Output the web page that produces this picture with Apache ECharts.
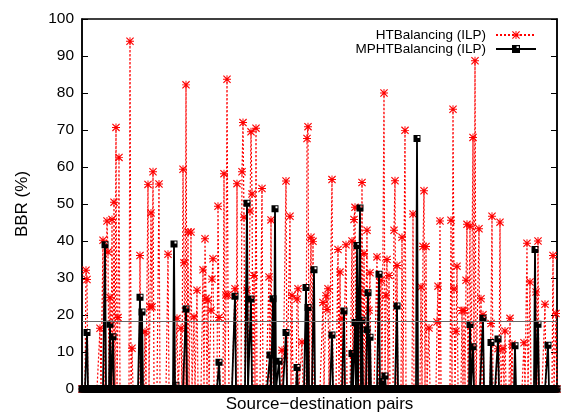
<!DOCTYPE html>
<html>
<head>
<meta charset="utf-8">
<script src="https://cdn.jsdelivr.net/npm/echarts@6/dist/echarts.min.js"></script>
<style>
  html, body { margin: 0; padding: 0; background: #fff; }
  #chart { width: 564px; height: 413px; }
</style>
</head>
<body>
<div id="chart"></div>
<script>
// Number of source-destination pairs on the x axis
const pairCount = 476;

// HTBalancing (ILP): pairs with non-zero BBR and their values (%)
const htPairs = [4, 5, 18, 21, 25, 26, 28, 30, 32, 34, 36, 37, 48, 50, 58, 63, 66, 68, 69, 70, 71, 77, 86, 95, 99, 101, 102, 104, 106, 109, 112, 115,
  121, 123, 124, 126, 129, 130, 131, 136, 137, 142, 144, 145, 146, 153, 155, 160, 161, 162, 165, 168, 169, 170, 172, 174, 180, 187, 189,
  200, 204, 208, 210, 215, 216, 220, 225, 226, 229, 231, 241, 244, 245, 246, 250, 256, 258, 260, 264, 270, 272, 273, 278, 280, 282, 285,
  287, 288, 295, 299, 302, 304, 305, 307, 312, 313, 315, 320, 323, 331, 339, 341, 342, 344, 347, 355, 356, 358, 369, 371, 372, 374, 375,
  380, 382, 384, 385, 388, 391, 393, 397, 399, 401, 409, 410, 416, 418, 421, 423, 428, 430, 442, 445, 448, 454, 456, 463, 471, 474];
const htBBR = [32.1, 29.6, 16.4, 40.2, 45.4, 37.0, 24.7, 45.8, 50.5, 70.7, 19.3, 62.6, 94.0, 11.0, 36.1, 15.5, 55.3, 22.2, 47.6, 22.2, 58.7, 55.4, 36.4, 19.1, 16.4, 59.4, 34.1, 82.2, 42.4, 42.4, 19.5, 26.7,
  32.2, 40.6, 24.5, 24.0, 21.3, 29.7, 35.2, 49.4, 19.3, 58.2, 25.4, 83.7, 25.4, 27.1, 55.5, 58.7, 72.0, 46.4, 26.7, 48.1, 69.5, 52.7, 30.7, 70.5, 54.2, 30.3, 45.7,
  10.5, 56.2, 46.7, 25.3, 24.3, 27.1, 12.7, 67.7, 70.9, 41.0, 39.9, 23.4, 25.2, 21.5, 27.1, 56.6, 37.7, 31.6, 19.1, 39.0, 40.0, 45.8, 49.1, 26.2, 55.8, 36.6, 42.9,
  21.3, 31.4, 35.7, 29.4, 80.0, 25.3, 35.0, 30.7, 42.9, 56.3, 33.4, 41.0, 69.9, 47.3, 27.6, 38.5, 53.6, 38.5, 16.5, 18.1, 27.8, 45.4, 45.6, 75.6, 27.0, 15.6, 33.2,
  21.2, 21.2, 29.4, 44.5, 44.0, 68.0, 88.7, 43.3, 24.4, 20.1, 17.7, 46.7, 10.9, 45.1, 10.9, 15.7, 19.1, 12.1, 12.5, 39.4, 28.9, 26.2, 40.0, 22.9, 36.1, 20.4];

// MPHTBalancing (ILP): pairs with non-zero BBR and their values (%)
const mpPairs = [5, 23, 28, 31, 58, 60, 92, 94, 104, 137, 153, 165, 169, 188, 191, 193, 197, 204, 215, 224, 226, 232, 250, 262, 270, 273, 275,
  278, 280, 285, 286, 288, 297, 300, 303, 315, 335, 388, 391, 401, 409, 416, 433, 453, 456, 466];
const mpBBR = [15.3, 39.0, 17.5, 14.1, 24.8, 20.8, 39.2, 1.0, 21.6, 7.2, 25.1, 50.2, 24.3, 9.2, 24.4, 48.7, 7.5, 15.3, 5.8, 27.4, 22.0, 32.2, 14.6, 21.1, 9.6, 18.0, 38.8,
  48.9, 18.6, 16.0, 26.0, 14.0, 31.0, 2.0, 3.5, 22.4, 67.7, 17.4, 11.4, 19.1, 12.6, 13.5, 11.7, 37.7, 17.5, 11.8];

// Reference level drawn across the plot (%)
const referenceBBR = 18.3;

// Y axis ticks
const yMin = 0, yMax = 100, yStep = 10;

const seriesNames = ['HTBalancing (ILP)', 'MPHTBalancing (ILP)'];
const xTitle = 'Source\u2212destination pairs';
const yTitle = 'BBR (%)';

// Expand sparse pair lists into one value per pair (zero elsewhere)
function fullSeries(pairs, values) {
  const out = [];
  for (let i = 0; i < pairCount; i++) out.push([i, 0]);
  pairs.forEach((p, k) => { out[p] = [p, values[k]]; });
  return out;
}

// Asterisk (+ and x combined) and a filled square with a small notch
const starSymbol = 'path://M4.4,0H5.6V10H4.4Z M0,4.4H10V5.6H0Z M1,0L10,9L9,10L0,1Z M9,0L10,1L1,10L0,9Z';
const squareSymbol = 'path://M0,0H7V7H0Z M4,1V3H6V1Z';

const font = 'Liberation Sans, Arial, Helvetica, sans-serif';

const chart = echarts.init(document.getElementById('chart'), null, { renderer: 'canvas' });
chart.setOption({
  animation: false,
  backgroundColor: '#fff',
  textStyle: { fontFamily: font, color: '#000' },
  grid: {
    left: 82, right: 7, top: 19, bottom: 24,
    outerBoundsMode: 'none',
    containLabel: false,
    show: true, borderColor: '#000', borderWidth: 1.5, backgroundColor: 'transparent'
  },
  legend: {
    data: seriesNames,
    orient: 'vertical',
    right: 22,
    top: 23,
    align: 'right',
    itemWidth: 40,
    itemHeight: 10,
    itemGap: 0,
    textStyle: { fontFamily: font, fontSize: 13.5, lineHeight: 14, color: '#000', padding: [0, 5, 0, 0] }
  },
  xAxis: {
    type: 'value',
    min: 0,
    max: pairCount - 1,
    name: xTitle,
    nameLocation: 'middle',
    nameGap: 7,
    nameTextStyle: { fontFamily: font, fontSize: 17, color: '#000' },
    axisLine: { show: true, lineStyle: { color: '#000', width: 1.5 } },
    axisTick: { show: false },
    axisLabel: { show: false },
    splitLine: { show: false }
  },
  yAxis: [{
    type: 'value',
    min: yMin,
    max: yMax,
    interval: yStep,
    name: yTitle,
    nameLocation: 'middle',
    nameGap: 51,
    nameTextStyle: { fontFamily: font, fontSize: 17, color: '#000' },
    axisLine: { show: true, lineStyle: { color: '#000', width: 1.5 } },
    axisTick: { show: true, inside: true, length: 6, lineStyle: { color: '#000', width: 1 } },
    axisLabel: { fontFamily: font, fontSize: 15.5, color: '#000', margin: 8 },
    splitLine: { show: false }
  }, {
    type: 'value',
    position: 'right',
    min: yMin,
    max: yMax,
    interval: yStep,
    axisLine: { show: true, lineStyle: { color: '#000', width: 1.5 } },
    axisTick: { show: true, inside: true, length: 6, lineStyle: { color: '#000', width: 1 } },
    axisLabel: { show: false },
    splitLine: { show: false }
  }],
  series: [{
    name: seriesNames[0],
    type: 'line',
    data: fullSeries(htPairs, htBBR),
    showAllSymbol: true,
    symbol: starSymbol,
    symbolSize: 8,
    itemStyle: { color: '#ff0000' },
    lineStyle: { color: '#ff0000', width: 1.2, type: [2, 2] },
    z: 2
  }, {
    name: seriesNames[1],
    type: 'line',
    data: fullSeries(mpPairs, mpBBR),
    showAllSymbol: true,
    symbol: squareSymbol,
    symbolSize: 7,
    itemStyle: { color: '#000' },
    lineStyle: { color: '#000', width: 1.8 },
    markLine: {
      silent: true,
      symbol: 'none',
      label: { show: false },
      lineStyle: { color: '#666', width: 1, type: 'solid' },
      data: [{ yAxis: referenceBBR }]
    },
    z: 3
  }]
});
</script>
</body>
</html>
